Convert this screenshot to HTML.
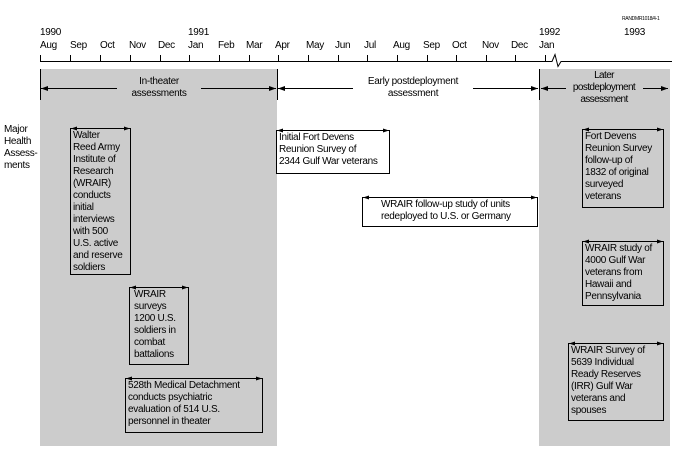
<!DOCTYPE html>
<html><head><meta charset="utf-8"><style>
body{margin:0;background:#fff;}
#c{position:relative;width:684px;height:458px;overflow:hidden;font-family:"Liberation Sans",Arial,sans-serif;font-size:10px;color:#000;letter-spacing:-0.3px;}
.t{position:absolute;white-space:nowrap;line-height:12px;}
.b{position:absolute;border:1px solid #000;box-sizing:border-box;padding:1px 2px;line-height:12px;font-size:10px;}
</style></head><body><div id="c">
<svg width="684" height="458" style="position:absolute;left:0;top:0">
<rect x="40" y="69" width="237" height="377" fill="#cccccc"/>
<rect x="539" y="69" width="131" height="377" fill="#cccccc"/>
<g stroke="#000" stroke-width="1" fill="none">
<path d="M40 61.5H552l3 -7 3 12 3 -5H672"/>
<path d="M40.5 55v7M70.5 55v7M100.5 55v7M130.5 55v7M160.5 55v7M189.5 55v7M219.5 55v7M249.5 55v7M278.5 55v7M308.5 55v7M338.5 55v7M367.5 55v7M397.5 55v7M427.5 55v7M456.5 55v7M486.5 55v7M515.5 55v7M545.5 55v7"/>
<path d="M40.5 69v31M277.5 69v31M539.5 69v31"/>
<path d="M41 88.5H117M201 88.5H276M278 88.5H353M473 88.5H538M541 88.5H566M643 88.5H668"/>
</g>
<g fill="#000">
<path d="M41 88.5l7-2.5v5z"/><path d="M276 88.5l-7-2.5v5z"/>
<path d="M278 88.5l7-2.5v5z"/><path d="M538 88.5l-7-2.5v5z"/>
<path d="M541 88.5l7-2.5v5z"/><path d="M668 88.5l-7-2.5v5z"/>
</g>
</svg>
<div class="t" style="left:622px;top:16px;font-size:5px;line-height:6px">RANDMR1018/4-1</div>
<div class="t" style="left:40px;top:27px">1990</div>
<div class="t" style="left:188px;top:27px">1991</div>
<div class="t" style="left:539px;top:27px">1992</div>
<div class="t" style="left:624px;top:27px">1993</div>
<div class="t" style="left:40px;top:40px">Aug</div>
<div class="t" style="left:70px;top:40px">Sep</div>
<div class="t" style="left:100px;top:40px">Oct</div>
<div class="t" style="left:129px;top:40px">Nov</div>
<div class="t" style="left:158px;top:40px">Dec</div>
<div class="t" style="left:188px;top:40px">Jan</div>
<div class="t" style="left:218px;top:40px">Feb</div>
<div class="t" style="left:246px;top:40px">Mar</div>
<div class="t" style="left:275px;top:40px">Apr</div>
<div class="t" style="left:306px;top:40px">May</div>
<div class="t" style="left:335px;top:40px">Jun</div>
<div class="t" style="left:364px;top:40px">Jul</div>
<div class="t" style="left:393px;top:40px">Aug</div>
<div class="t" style="left:423px;top:40px">Sep</div>
<div class="t" style="left:452px;top:40px">Oct</div>
<div class="t" style="left:482px;top:40px">Nov</div>
<div class="t" style="left:511px;top:40px">Dec</div>
<div class="t" style="left:539px;top:40px">Jan</div>
<div class="t" style="left:118px;top:76px;width:82px;text-align:center">In-theater<br>assessments</div>
<div class="t" style="left:354px;top:76px;width:118px;text-align:center">Early postdeployment<br>assessment</div>
<div class="t" style="left:566px;top:70px;width:76px;text-align:center;letter-spacing:-0.6px">Later<br>postdeployment<br>assessment</div>
<div class="t" style="left:4px;top:124px">Major<br>Health<br>Assess-<br>ments</div>
<div class="b" style="left:70px;top:128px;width:61px;height:147px">Walter<br>Reed Army<br>Institute of<br>Research<br>(WRAIR)<br>conducts<br>initial<br>interviews<br>with 500<br>U.S. active<br>and reserve<br>soldiers</div>
<div class="b" style="left:129px;top:287px;width:60px;height:78px;padding-left:4px">WRAIR<br>surveys<br>1200 U.S.<br>soldiers in<br>combat<br>battalions</div>
<div class="b" style="left:125px;top:378px;width:138px;height:55px">528th Medical Detachment<br>conducts psychiatric<br>evaluation of 514 U.S.<br>personnel in theater</div>
<div class="b" style="left:276px;top:130px;width:114px;height:44px">Initial Fort Devens<br>Reunion Survey of<br>2344 Gulf War veterans</div>
<div class="b" style="left:362px;top:197px;width:176px;height:30px;padding-left:18px">WRAIR follow-up study of units<br>redeployed to U.S. or Germany</div>
<div class="b" style="left:582px;top:129px;width:82px;height:79px">Fort Devens<br>Reunion Survey<br>follow-up of<br>1832 of original<br>surveyed<br>veterans</div>
<div class="b" style="left:582px;top:241px;width:82px;height:65px">WRAIR study of<br>4000 Gulf War<br>veterans from<br>Hawaii and<br>Pennsylvania</div>
<div class="b" style="left:568px;top:343px;width:96px;height:78px">WRAIR Survey of<br>5639 Individual<br>Ready Reserves<br>(IRR) Gulf War<br>veterans and<br>spouses</div>
<svg width="684" height="458" style="position:absolute;left:0;top:0">
<g fill="#000">
<path d="M71 128.5l6-2v4zM130 128.5l-6-2v4z"/>
<path d="M130 287.5l6-2v4zM188 287.5l-6-2v4z"/>
<path d="M126 378.5l6-2v4zM262 378.5l-6-2v4z"/>
<path d="M277 130.5l6-2v4zM389 130.5l-6-2v4z"/>
<path d="M363 197.5l6-2v4zM537 197.5l-6-2v4z"/>
<path d="M583 129.5l6-2v4zM663 129.5l-6-2v4z"/>
<path d="M583 241.5l6-2v4zM663 241.5l-6-2v4z"/>
<path d="M569 343.5l6-2v4zM663 343.5l-6-2v4z"/>
</g></svg>
</div></body></html>
